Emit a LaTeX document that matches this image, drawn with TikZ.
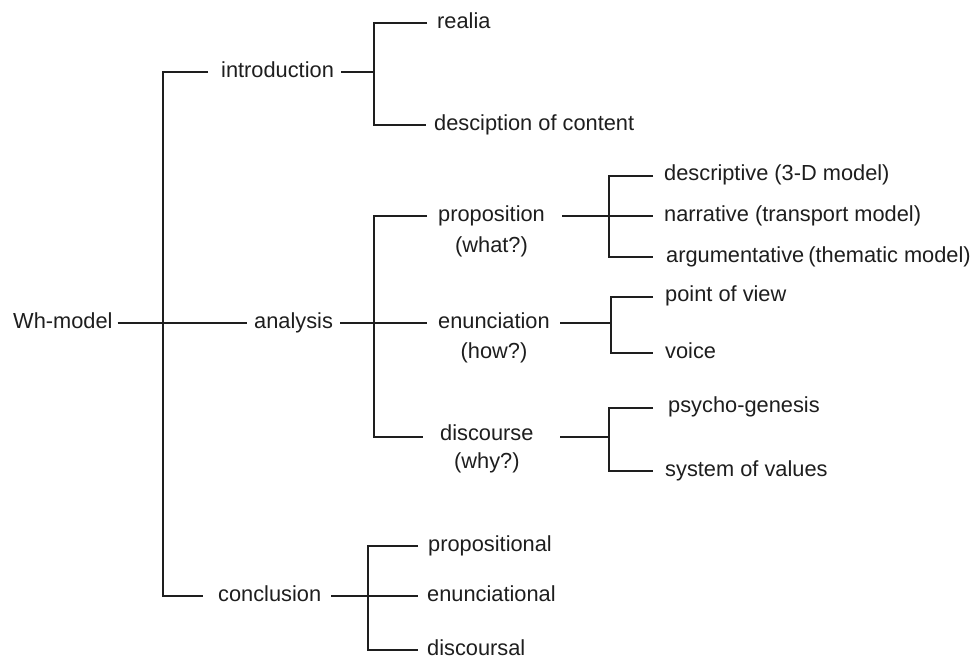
\documentclass[tikz,border=0pt]{standalone}
\usepackage{fontspec}
\setmainfont{Liberation Sans}
\definecolor{ink}{HTML}{1E1E1E}
\newcommand{\lowr}[1]{\raisebox{-2.5pt}{#1}}
\begin{document}
\begin{tikzpicture}[x=1pt,y=-1pt,
  lbl/.style={anchor=mid west,inner sep=0pt,text=ink,font=\fontsize{21.8}{26}\selectfont},
  qlbl/.style={anchor=mid,inner sep=0pt,text=ink,font=\fontsize{21.8}{26}\selectfont},
  conn/.style={draw=ink,line width=1.5pt}]
\useasboundingbox[fill=white] (0,0) rectangle (973,662);
% nodes
\node[lbl] (wh) at (13,323) {\lowr{Wh-model}};
\node[lbl] (intro) at (221,72) {\lowr{introduction}};
\node[lbl] (ana) at (254,323) {\lowr{analysis}};
\node[lbl] (conc) at (218,596) {\lowr{conclusion}};
\node[lbl] (realia) at (437,23) {\lowr{realia}};
\node[lbl] (desc) at (434,125) {\lowr{desciption of content}};
\node[lbl] (prop) at (438,216) {\lowr{proposition}};
\node[qlbl] (propq) at (prop.center |- 0,247) {\lowr{(what?)}};
\node[lbl] (enun) at (438,323) {\lowr{enunciation}};
\node[qlbl] (enunq) at (enun.center |- 0,353) {\lowr{(how?)}};
\node[lbl] (disc) at (440,435) {\lowr{discourse}};
\node[qlbl] (discq) at (disc.center |- 0,463) {\lowr{(why?)}};
\node[lbl] (descr) at (664,175) {\lowr{descriptive (3-D model)}};
\node[lbl] (narr) at (664,216) {\lowr{narrative (transport model)}};
\node[lbl] (arg) at (666,257) {\lowr{argumentative\kern-2pt\ (thematic model)}};
\node[lbl] (pov) at (665,296) {\lowr{point of view}};
\node[lbl] (voice) at (665,353) {\lowr{voice}};
\node[lbl] (psy) at (668,407) {\lowr{psycho-genesis}};
\node[lbl] (sov) at (665,471) {\lowr{system of values}};
\node[lbl] (propl) at (428,546) {\lowr{propositional}};
\node[lbl] (enunl) at (427,596) {\lowr{enunciational}};
\node[lbl] (discl) at (427,650) {\lowr{discoursal}};
% junction coordinates
\coordinate (m1) at (163,72);
\coordinate (m2) at (163,596);
\coordinate (i0) at (374,72);
\coordinate (i1) at (374,23);
\coordinate (i2) at (374,125);
\coordinate (a1) at (374,216);
\coordinate (a2) at (374,437);
\coordinate (ps) at (562,216);
\coordinate (p1) at (609,176);
\coordinate (p2) at (609,257);
\coordinate (es) at (560,323);
\coordinate (e0) at (611,323);
\coordinate (e1) at (611,297);
\coordinate (e2) at (611,353);
\coordinate (ds) at (560,437);
\coordinate (d0) at (609,437);
\coordinate (d1) at (609,408);
\coordinate (d2) at (609,471);
\coordinate (c1) at (368,546);
\coordinate (c2) at (368,650);
% connectors
\draw[conn] ([xshift=5]wh.mid east) -- ([xshift=-7]ana.mid west);
\draw[conn] ([xshift=-13]intro.mid west) -- (m1) -- (m2) -- ([xshift=-15]conc.mid west);
\draw[conn] ([xshift=7]intro.mid east) -- (i0);
\draw[conn] ([xshift=-10]realia.mid west) -- (i1) -- (i2) -- ([xshift=-8]desc.mid west);
\draw[conn] ([xshift=7]ana.mid east) -- ([xshift=-11]enun.mid west);
\draw[conn] ([xshift=-11]prop.mid west) -- (a1) -- (a2) -- ([xshift=-17]disc.mid west |- a2);
\draw[conn] (ps) -- ([xshift=-11]narr.mid west);
\draw[conn] ([xshift=-11]descr.mid west |- p1) -- (p1) -- (p2) -- ([xshift=-13]arg.mid west);
\draw[conn] (es) -- (e0);
\draw[conn] ([xshift=-12]pov.mid west |- e1) -- (e1) -- (e2) -- ([xshift=-12]voice.mid west);
\draw[conn] (ds) -- (d0);
\draw[conn] ([xshift=-15]psy.mid west |- d1) -- (d1) -- (d2) -- ([xshift=-12]sov.mid west);
\draw[conn] ([xshift=10]conc.mid east) -- ([xshift=-9]enunl.mid west);
\draw[conn] ([xshift=-10]propl.mid west) -- (c1) -- (c2) -- ([xshift=-9]discl.mid west);
\end{tikzpicture}
\end{document}
